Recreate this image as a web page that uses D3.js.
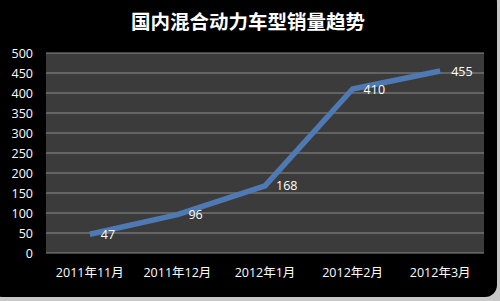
<!DOCTYPE html>
<html>
<head>
<meta charset="utf-8">
<script src="https://cdn.jsdelivr.net/npm/d3@7"></script>
<style>
  body { margin: 0; background: #c8c8c8; }
  svg { display: block; }
</style>
</head>
<body>
<div id="chart"></div>
<script>
// data
const months = ["2011年11月", "2011年12月", "2012年1月", "2012年2月", "2012年3月"];
const sales = [47, 96, 168, 410, 455];
const yTicks = [0, 50, 100, 150, 200, 250, 300, 350, 400, 450, 500];

const width = 500,
    height = 301;
const margin = { top: 53, right: 16, bottom: 48, left: 46 };

const svg = d3.select("#chart")
    .append("svg")
    .attr("width", width)
    .attr("height", height);

// black card
svg.append("rect")
    .attr("x", -10).attr("y", -10)
    .attr("width", width + 7).attr("height", height + 6)
    .attr("rx", 12)
    .attr("fill", "#000");

const x = d3.scaleBand()
    .domain(months)
    .range([margin.left, width - margin.right]);

const y = d3.scaleLinear()
    .domain([0, 500])
    .range([height - margin.bottom, margin.top]);

// plot area
svg.append("rect")
    .attr("x", margin.left)
    .attr("y", y(500))
    .attr("width", x.range()[1] - margin.left)
    .attr("height", y(0) - y(500))
    .attr("fill", "#3b3b3b");

// gridlines
svg.append("g")
    .selectAll("line")
    .data(yTicks)
    .enter()
    .append("line")
    .attr("x1", margin.left)
    .attr("x2", width - margin.right)
    .attr("y1", d => y(d))
    .attr("y2", d => y(d))
    .attr("stroke", "#8c8c8c")
    .attr("stroke-width", 1.2);

// y axis
const yAxis = svg.append("g")
    .attr("transform", "translate(" + (margin.left - 13) + ",0)")
    .call(d3.axisLeft(y).tickValues(yTicks).tickSize(0).tickPadding(0));
yAxis.select(".domain").remove();
yAxis.selectAll("text")
    .attr("fill", "#fff")
    .style("font-family", "'Open Sans', 'Noto Sans', sans-serif")
    .style("font-size", "12.5px");

// x axis
const xAxis = svg.append("g")
    .attr("transform", "translate(0," + (y(0) + 15) + ")")
    .call(d3.axisBottom(x).tickSize(0).tickPadding(0));
xAxis.select(".domain").remove();
xAxis.selectAll("text")
    .attr("fill", "#fff")
    .style("font-family", "'Open Sans', 'Noto Sans CJK SC', sans-serif")
    .style("font-size", "12.5px");

// line
const line = d3.line()
    .x((d, i) => x(months[i]) + x.bandwidth() / 2)
    .y(d => y(d));

svg.append("path")
    .datum(sales)
    .attr("d", line)
    .attr("fill", "none")
    .attr("stroke", "#4f79b3")
    .attr("stroke-width", 5.5)
    .attr("stroke-linejoin", "round");

// value labels
svg.selectAll(".lbl")
    .data(sales)
    .enter()
    .append("text")
    .attr("x", (d, i) => x(months[i]) + x.bandwidth() / 2 + 11)
    .attr("y", d => y(d))
    .attr("dy", "0.36em")
    .text(d => d)
    .attr("fill", "#fff")
    .style("font-family", "'Open Sans', 'Noto Sans', sans-serif")
    .style("font-size", "12.5px");

// title
svg.append("text")
    .attr("x", 248)
    .attr("y", 29)
    .attr("text-anchor", "middle")
    .attr("fill", "#fff")
    .style("font-family", "'Noto Sans CJK SC', sans-serif")
    .style("font-weight", "bold")
    .style("font-size", "19.5px")
    .text("国内混合动力车型销量趋势");
</script>
</body>
</html>
